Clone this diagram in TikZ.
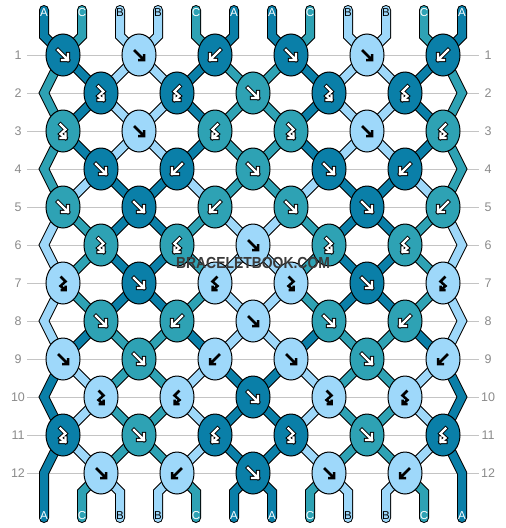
\documentclass[tikz,border=0pt]{standalone}
\usepackage{fontspec}
\setmainfont{Liberation Sans}
\usetikzlibrary{shapes.geometric}
\definecolor{cA}{HTML}{0A7FA8}
\definecolor{cC}{HTML}{2EA2B4}
\definecolor{cB}{HTML}{9ED8FA}
\definecolor{tA}{HTML}{FFFFFF}
\definecolor{tC}{HTML}{FFFFFF}
\definecolor{tB}{HTML}{000000}
\definecolor{gridc}{HTML}{C4C4C4}
\definecolor{labc}{HTML}{8A8A8A}
\definecolor{wmc}{HTML}{3A3A3A}
\newcommand\kglyphF[1]{\draw[#1] (-5,-5) -- (5,5) (5,-1) -- (5,5) -- (-1,5);}
\newcommand\kglyphB[1]{\draw[#1] (5,-5) -- (-5,5) (-5,-1) -- (-5,5) -- (1,5);}
\newcommand\kglyphFB[1]{\draw[#1] (-2.5,-6.5) -- (2.5,-1.5) -- (-2.5,3) -- (2.5,7) (2.5,2.5) -- (2.5,7) -- (-2.5,7);}
\newcommand\kglyphBF[1]{\draw[#1] (2.5,-6.5) -- (-2.5,-1.5) -- (2.5,3) -- (-2.5,7) (-2.5,2.5) -- (-2.5,7) -- (2.5,7);}
\newcommand\thread[2]{\ifnum\passno=1 \draw[throut] #2; \else \draw[thrin, draw=c#1] #2; \fi}
\tikzset{
  throut/.style={draw=black, line width=10pt, line cap=round, line join=miter},
  thrin/.style={line width=8pt, line cap=round, line join=miter},
  knot/.style={ellipse, draw=black, line width=1pt, minimum width=34pt, minimum height=42pt, inner sep=0pt},
  outA/.style={draw=black, line width=4.2pt, line cap=rect, line join=miter},
  inA/.style={draw=white, line width=2.2pt, line cap=rect, line join=miter},
  outC/.style={outA}, inC/.style={inA},
  outB/.style={draw=black, line width=2.5pt, line join=miter},
  inB/.style={draw=none},
  gridline/.style={draw=gridc, line width=1pt},
  rowlab/.style={text=labc, font=\fontsize{12.5}{12.5}\selectfont, inner sep=0pt},
  endlab/.style={font=\fontsize{11.5}{11.5}\selectfont, inner sep=0pt},
  wmark/.style={text=wmc, font=\bfseries\fontsize{16}{16}\selectfont, inner sep=0pt}
}
\begin{document}
\begin{tikzpicture}[x=1pt, y=-1pt]
\useasboundingbox (0,0) rectangle (506,528);
% grid lines and row numbers
\foreach \rr in {1,...,12} {
  \pgfmathsetmacro\yy{55+38*(\rr-1)}
  \coordinate (gl-\rr) at (27,\yy);
  \coordinate (gr-\rr) at (479,\yy);
  \draw[gridline] (gl-\rr) -- (gr-\rr);
  \node[rowlab] (ll-\rr) at (18,\yy) {\rr};
  \node[rowlab] (rl-\rr) at (488,\yy) {\rr};
}
% string positions
\foreach \rr in {1,...,12} {
  \foreach \ii in {1,...,12} {
    \pgfmathsetmacro\xx{isodd(\rr) ? (63+76*(ceil(\ii/2)-1)) : (\ii==1 ? 44 : (\ii==12 ? 462 : (101+76*(floor(\ii/2)-1))))}
    \pgfmathsetmacro\yy{55+38*(\rr-1)}
    \coordinate (p-\rr-\ii) at (\xx,\yy);
  }
}
\foreach \ii in {1,...,12} {
  \pgfmathsetmacro\xx{44+38*(\ii-1)}
  \coordinate (t-\ii) at (\xx,10);
  \coordinate (p-0-\ii) at (\xx,36);
  \coordinate (p-13-\ii) at (\xx,492);
  \coordinate (b-\ii) at (\xx,518);
}
% threads
\foreach \passno in {1,2} {
  \foreach \rr/\seq in {
    0/{A,C,B,B,C,A,A,C,B,B,C,A},
    1/{C,A,B,B,A,C,C,A,B,B,A,C},
    2/{C,A,B,B,A,C,C,A,B,B,A,C},
    3/{C,A,B,B,A,C,C,A,B,B,A,C},
    4/{C,B,A,A,B,C,C,B,A,A,B,C},
    5/{B,C,A,A,C,B,B,C,A,A,C,B},
    6/{B,C,A,A,C,B,B,C,A,A,C,B},
    7/{B,C,A,A,C,B,B,C,A,A,C,B},
    8/{B,A,C,C,A,B,B,A,C,C,A,B},
    9/{A,B,C,C,B,A,A,B,C,C,B,A},
    10/{A,B,C,C,B,A,A,B,C,C,B,A},
    11/{A,B,C,C,B,A,A,B,C,C,B,A},
    12/{A,C,B,B,C,A,A,C,B,B,C,A}} {
    \pgfmathtruncatemacro\rn{\rr+1}
    \pgfmathtruncatemacro\rp{\rr-1}
    \foreach \scol [count=\ii] in \seq {
      \pgfmathtruncatemacro\isedge{(\ii==1)||(\ii==12)}
      \ifnum\rr=0
        \thread{\scol}{(t-\ii) -- (p-0-\ii) -- (p-1-\ii)}
      \else\ifnum\rr=12
        \ifnum\isedge=1
          \thread{\scol}{(p-11-\ii) -- (p-12-\ii) -- (b-\ii)}
        \else
          \thread{\scol}{(p-12-\ii) -- (p-13-\ii) -- (b-\ii)}
        \fi
      \else
        \ifnum\isedge=1
          \ifodd\rr\relax\else
            \thread{\scol}{(p-\rp-\ii) -- (p-\rr-\ii) -- (p-\rn-\ii)}
          \fi
        \else
          \thread{\scol}{(p-\rr-\ii) -- (p-\rn-\ii)}
        \fi
      \fi\fi
    }
  }
}
% end labels
\foreach \scol [count=\ii] in {A,C,B,B,C,A,A,C,B,B,C,A} {
  \pgfmathsetmacro\xx{44+38*(\ii-1)}
  \node[endlab, text=t\scol] (tl-\ii) at (\xx,12.5) {\scol};
  \node[endlab, text=t\scol] (bl-\ii) at (\xx,516) {\scol};
}
% knots
\foreach \rr/\knots in {
  1/{A/F,B/F,A/B,A/F,B/F,A/B},
  2/{A/FB,A/BF,C/F,A/FB,A/BF},
  3/{C/FB,B/F,C/BF,C/FB,B/F,C/BF},
  4/{A/F,A/B,C/F,A/F,A/B},
  5/{C/F,A/F,C/B,C/F,A/F,C/B},
  6/{C/FB,C/BF,B/F,C/FB,C/BF},
  7/{B/FB,A/F,B/BF,B/FB,A/F,B/BF},
  8/{C/F,C/B,B/F,C/F,C/B},
  9/{B/F,C/F,B/B,B/F,C/F,B/B},
  10/{B/FB,B/BF,A/F,B/FB,B/BF},
  11/{A/FB,C/F,A/BF,A/FB,C/F,A/BF},
  12/{B/F,B/B,A/F,B/F,B/B}} {
  \foreach \kc/\kt [count=\jj] in \knots {
    \pgfmathtruncatemacro\pos{isodd(\rr) ? 2*\jj-1 : 2*\jj}
    \node[knot, fill=c\kc] (k-\rr-\jj) at (p-\rr-\pos) {};
    \begin{scope}[shift={(k-\rr-\jj.center)}]
      \edef\tmpa{\expandafter\noexpand\csname kglyph\kt\endcsname{out\kc}}\tmpa
      \edef\tmpb{\expandafter\noexpand\csname kglyph\kt\endcsname{in\kc}}\tmpb
    \end{scope}
  }
}
% watermark
\node[wmark] (wm) at (253,263) {\scalebox{0.87}[1]{BRACELETBOOK.COM}};
\end{tikzpicture}
\end{document}
